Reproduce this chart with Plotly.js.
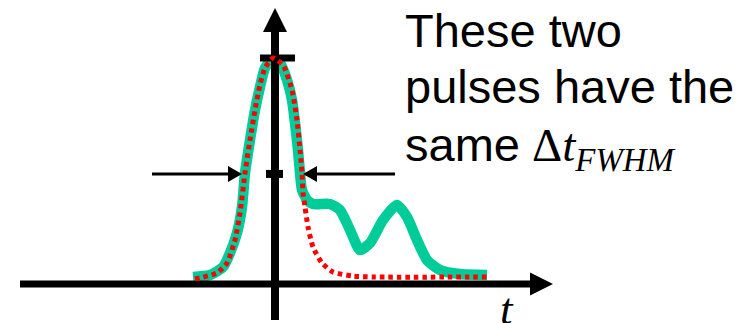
<!DOCTYPE html>
<html>
<head>
<meta charset="utf-8">
<script src="https://cdn.plot.ly/plotly-3.0.1.min.js"></script>
<style>
  html, body { margin: 0; padding: 0; background: #ffffff; }
  #chart { width: 753px; height: 323px; }
</style>
</head>
<body>
<div id="chart"></div>
<script>
// Pulse with a trailing bump (solid green): time t and intensity I
const bumpT = [-1.64, -1.30, -1.04, -0.90, -0.76, -0.66, -0.60, -0.50, -0.40, -0.30, -0.20, -0.06,
               0.10, 0.24, 0.34, 0.40, 0.46, 0.50, 0.54, 0.64, 0.76, 1.10, 1.30, 1.50, 1.70,
               1.90, 2.16, 2.44, 2.64, 2.84, 3.04, 3.30, 3.70, 4.24];
const bumpI = [0.031, 0.040, 0.075, 0.137, 0.226, 0.341, 0.491, 0.637, 0.770, 0.872, 0.956, 0.991,
               0.978, 0.903, 0.814, 0.712, 0.593, 0.491, 0.416, 0.372, 0.354, 0.354, 0.327, 0.239, 0.150,
               0.181, 0.283, 0.350, 0.296, 0.195, 0.106, 0.062, 0.044, 0.040];

// Clean single pulse (red dotted)
const cleanT = [-1.60, -1.16, -0.96, -0.80, -0.70, -0.60, -0.50, -0.40, -0.30, -0.20, -0.04,
                0.16, 0.34, 0.44, 0.50, 0.54, 0.56, 0.60, 0.66, 0.76, 0.94, 1.16, 1.56, 1.96, 4.24];
const cleanI = [0.022, 0.049, 0.093, 0.195, 0.314, 0.491, 0.637, 0.770, 0.881, 0.956, 1.000,
                0.969, 0.858, 0.726, 0.593, 0.491, 0.403, 0.341, 0.252, 0.164, 0.093, 0.053, 0.035, 0.031, 0.031];

// Shared peak and half-maximum markers
const peakLevel = 1.0;
const halfLevel = 0.487;
const fwhmEdges = [-0.66, 0.56];   // where both pulses cross half maximum

// Axis extents (t, I)
const tAxis = [-5.1, 5.56];
const iAxis = [-0.159, 1.221];

// Caption: sans-serif words, then the serif symbol Δt with its subscript
const captionLines = ["These two", "pulses have the", "same"];
const captionSymbol = "Δ<i>t</i><sub><i>FWHM</i></sub>";
const axisLabel = "<i>t</i>";

// ---- geometry helpers (pixel sizes converted to data units) ----
const W = 753, H = 323;
const xRange = [-5.5, 9.56];       // 50 px per t unit
const yRange = [-0.1726, 1.2566];  // 226 px per I unit
const pxT = (xRange[1] - xRange[0]) / W;
const pxI = (yRange[1] - yRange[0]) / H;

function seg(x, y, width) {
  return { x: x, y: y, mode: 'lines', line: { color: '#000', width: width },
           hoverinfo: 'skip', showlegend: false };
}
function tri(x, y) {
  return { x: x, y: y, mode: 'lines', fill: 'toself', fillcolor: '#000',
           line: { color: '#000', width: 0 }, hoverinfo: 'skip', showlegend: false };
}

const headLenH = 23 * pxT, headHalfH = 11.5 * pxI;   // horizontal axis head
const headLenV = 24 * pxI, headHalfV = 12 * pxT;     // vertical axis head
const fwHead = 14 * pxT, fwHalf = 8 * pxI;           // FWHM arrow heads
const leftTail = -2.46, rightTail = 2.40;

const traces = [
  // solid pulse sits beneath the axes
  { x: bumpT, y: bumpI, mode: 'lines', line: { color: '#00CC99', width: 10.5, shape: 'spline', smoothing: 0.6 },
    hoverinfo: 'skip', showlegend: false },

  // time axis with arrow
  seg([tAxis[0], tAxis[1] - headLenH], [0, 0], 7),
  tri([tAxis[1] - headLenH, tAxis[1], tAxis[1] - headLenH, tAxis[1] - headLenH],
      [headHalfH, 0, -headHalfH, headHalfH]),
  // intensity axis with arrow
  seg([0, 0], [iAxis[0], iAxis[1] - headLenV], 8),
  tri([-headHalfV, 0, headHalfV, -headHalfV],
      [iAxis[1] - headLenV, iAxis[1], iAxis[1] - headLenV, iAxis[1] - headLenV]),

  // peak and half-maximum ticks
  seg([-0.30, 0.40], [peakLevel, peakLevel], 7),
  seg([-0.18, 0.16], [halfLevel, halfLevel], 8),

  // FWHM arrows pointing at the half-maximum crossings
  seg([leftTail, fwhmEdges[0] - fwHead], [halfLevel, halfLevel], 3),
  tri([fwhmEdges[0] - fwHead, fwhmEdges[0], fwhmEdges[0] - fwHead, fwhmEdges[0] - fwHead],
      [halfLevel + fwHalf, halfLevel, halfLevel - fwHalf, halfLevel + fwHalf]),
  seg([rightTail, fwhmEdges[1] + fwHead], [halfLevel, halfLevel], 3),
  tri([fwhmEdges[1] + fwHead, fwhmEdges[1], fwhmEdges[1] + fwHead, fwhmEdges[1] + fwHead],
      [halfLevel + fwHalf, halfLevel, halfLevel - fwHalf, halfLevel + fwHalf]),

  // dotted pulse drawn on top
  { x: cleanT, y: cleanI, mode: 'lines', line: { color: '#FF0000', width: 5, dash: '4.5px,4px', shape: 'spline', smoothing: 0.6 },
    hoverinfo: 'skip', showlegend: false }
];

const sansFont = { family: "Liberation Sans", size: 47, color: '#000' };
const serifFont = { family: "Liberation Serif", size: 47, color: '#000' };
const lineTops = [1.5, 57.5, 115.5];

const annotations = captionLines.map((txt, i) => ({
  text: txt, xref: 'paper', yref: 'paper', x: 403 / W, y: 1 - lineTops[i] / H,
  xanchor: 'left', yanchor: 'top', showarrow: false, align: 'left', font: sansFont
}));
annotations.push({
  text: captionSymbol, xref: 'paper', yref: 'paper', x: 530 / W, y: 1 - 116.5 / H,
  xanchor: 'left', yanchor: 'top', showarrow: false, align: 'left', font: serifFont
});
annotations.push({
  text: axisLabel, xref: 'paper', yref: 'paper', x: 507 / W, y: 1 - 282 / H,
  xanchor: 'center', yanchor: 'top', showarrow: false,
  font: { family: "Liberation Serif", size: 45, color: '#000' }
});

const layout = {
  width: W, height: H,
  margin: { l: 0, r: 0, t: 0, b: 0 },
  paper_bgcolor: '#ffffff', plot_bgcolor: '#ffffff',
  xaxis: { range: xRange, visible: false, fixedrange: true },
  yaxis: { range: yRange, visible: false, fixedrange: true },
  showlegend: false,
  annotations: annotations
};

// Make sure the serif faces are ready before the text is laid out
const fontLoads = document.fonts ? Promise.all([
  document.fonts.load('47px "Liberation Sans"', 'These'),
  document.fonts.load('47px "Liberation Serif"', 'Δt'),
  document.fonts.load('italic 47px "Liberation Serif"', 'tFWHM')
]).catch(() => null) : Promise.resolve();

fontLoads.then(() => Plotly.newPlot('chart', traces, layout, { staticPlot: true, displayModeBar: false }));
</script>
</body>
</html>
